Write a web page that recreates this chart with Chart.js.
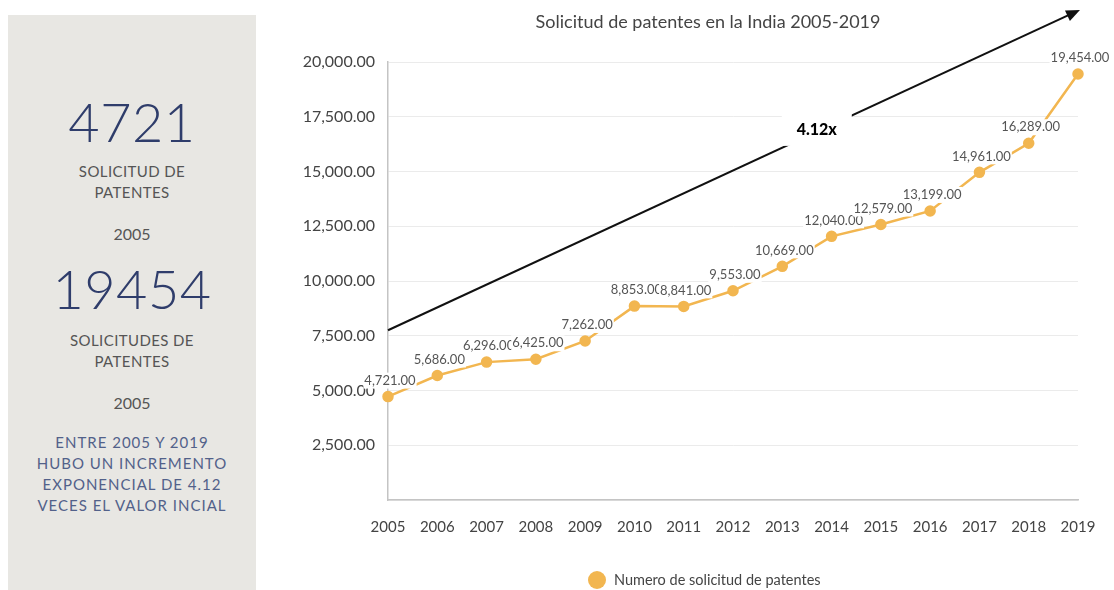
<!DOCTYPE html>
<html>
<head>
<meta charset="utf-8">
<script src="https://cdn.jsdelivr.net/npm/chart.js@4/dist/chart.umd.min.js"></script>
<style>
  html, body { margin: 0; padding: 0; background: #ffffff; width: 1114px; height: 590px; overflow: hidden; font-family: Lato, "Noto Sans", sans-serif; }
  #panel { position: absolute; left: 8px; top: 15px; width: 248px; height: 580px; background: #e8e7e3; }
  .t { position: absolute; left: 0; width: 248px; text-align: center; }
  .big { font-size: 54px; font-weight: 300; color: #2f3d6b; line-height: 1; letter-spacing: 0.5px; }
  .cap { font-size: 15px; color: #555; line-height: 21px; letter-spacing: 0.4px; }
  .yr { font-size: 16px; color: #555; line-height: 20px; }
  .note { font-size: 15px; color: #52618a; line-height: 21px; letter-spacing: 1px; }
  #wrap { position: absolute; left: 280px; top: 0; width: 834px; height: 590px; }
</style>
</head>
<body>
<div id="panel">
  <div class="t big" style="top:80px;">4721</div>
  <div class="t cap" style="top:146px;">SOLICITUD DE<br>PATENTES</div>
  <div class="t yr" style="top:209px;">2005</div>
  <div class="t big" style="top:247px;">19454</div>
  <div class="t cap" style="top:315px;">SOLICITUDES DE<br>PATENTES</div>
  <div class="t yr" style="top:378px;">2005</div>
  <div class="t note" style="top:417px;">ENTRE 2005 Y 2019<br>HUBO UN INCREMENTO<br>EXPONENCIAL DE 4.12<br>VECES EL VALOR INCIAL</div>
</div>
<div id="wrap"><canvas id="c" width="834" height="590"></canvas></div>
<script>
const years = ['2005','2006','2007','2008','2009','2010','2011','2012','2013','2014','2015','2016','2017','2018','2019'];
const applications = [4721, 5686, 6296, 6425, 7262, 8853, 8841, 9553, 10669, 12040, 12579, 13199, 14961, 16289, 19454];
const yTicks = [0, 2500, 5000, 7500, 10000, 12500, 15000, 17500, 20000];
const trendFrom = [0, 7750];      // [category index, value]
const trendTo = [14.04, 22380];
const trendLabel = '4.12x';
const trendLabelAt = [8.7, 16900];
const seriesName = 'Numero de solicitud de patentes';
const chartTitle = 'Solicitud de patentes en la India 2005-2019';

const FONT = 'Lato, "Noto Sans", sans-serif';
const ORANGE = '#f2b650';

const fmt = v => v.toLocaleString('en-US', {minimumFractionDigits: 2, maximumFractionDigits: 2});

const titleLegendPlugin = {
  id: 'titleLegend',
  afterDraw(chart) {
    const ctx = chart.ctx;
    ctx.save();
    ctx.font = '18px ' + FONT;
    ctx.fillStyle = '#444';
    ctx.textAlign = 'center';
    ctx.textBaseline = 'middle';
    ctx.fillText(chartTitle, 428, 22);
    // legend
    const ds = chart.data.datasets[0];
    ctx.fillStyle = ds.backgroundColor;
    ctx.beginPath();
    ctx.arc(317, 580, 9, 0, Math.PI * 2);
    ctx.fill();
    ctx.font = '14.5px ' + FONT;
    ctx.fillStyle = '#444';
    ctx.textAlign = 'left';
    ctx.fillText(ds.label, 334, 580);
    ctx.restore();
  }
};

const labelPlugin = {
  id: 'valueLabels',
  afterDatasetsDraw(chart) {
    const ctx = chart.ctx;
    const meta = chart.getDatasetMeta(0);
    ctx.save();
    ctx.font = '13px ' + FONT;
    ctx.textAlign = 'center';
    ctx.textBaseline = 'middle';
    meta.data.forEach((pt, i) => {
      const txt = fmt(applications[i]);
      const w = ctx.measureText(txt).width;
      const x = pt.x + 2, y = pt.y - 16;
      ctx.fillStyle = '#ffffff';
      ctx.fillRect(x - w / 2 - 1, y - 8, w + 2, 16);
      ctx.fillStyle = '#555555';
      ctx.fillText(txt, x, y);
    });
    ctx.restore();
  }
};

const arrowPlugin = {
  id: 'trendArrow',
  afterDraw(chart) {
    const ctx = chart.ctx;
    const xs = chart.scales.x, ys = chart.scales.y;
    const x1 = xs.getPixelForValue(trendFrom[0]), y1 = ys.getPixelForValue(trendFrom[1]);
    const x2 = xs.getPixelForValue(trendTo[0]), y2 = ys.getPixelForValue(trendTo[1]);
    const ang = Math.atan2(y2 - y1, x2 - x1);
    const head = 15;
    ctx.save();
    ctx.strokeStyle = '#111';
    ctx.lineWidth = 2;
    ctx.beginPath();
    ctx.moveTo(x1, y1);
    ctx.lineTo(x2 - Math.cos(ang) * head * 0.8, y2 - Math.sin(ang) * head * 0.8);
    ctx.stroke();
    ctx.fillStyle = '#111';
    ctx.beginPath();
    ctx.moveTo(x2, y2);
    ctx.lineTo(x2 - head * Math.cos(ang - 0.4), y2 - head * Math.sin(ang - 0.4));
    ctx.lineTo(x2 - head * Math.cos(ang + 0.4), y2 - head * Math.sin(ang + 0.4));
    ctx.closePath();
    ctx.fill();
    const lx = xs.getPixelForValue(trendLabelAt[0]), ly = ys.getPixelForValue(trendLabelAt[1]);
    ctx.fillStyle = '#ffffff';
    ctx.fillRect(lx - 35, ly - 16, 70, 32);
    ctx.font = '900 16px ' + FONT;
    ctx.textAlign = 'center';
    ctx.textBaseline = 'middle';
    ctx.fillStyle = '#000';
    ctx.fillText(trendLabel, lx, ly);
    ctx.restore();
  }
};

new Chart(document.getElementById('c'), {
  type: 'line',
  data: {
    labels: years,
    datasets: [{
      label: seriesName,
      data: applications,
      borderColor: ORANGE,
      backgroundColor: ORANGE,
      borderWidth: 2.5,
      pointRadius: 4.5,
      pointBackgroundColor: ORANGE,
      pointBorderColor: ORANGE,
      tension: 0
    }]
  },
  options: {
    responsive: false,
    devicePixelRatio: 1,
    animation: false,
    layout: { padding: { left: 0, right: 36, top: 62, bottom: 18 } },
    plugins: {
      title: { display: false },
      legend: { display: false },
      tooltip: { enabled: false }
    },
    scales: {
      x: {
        offset: false,
        grid: { display: false, drawTicks: false },
        border: { color: '#c4c4c4', width: 1.5 },
        ticks: { color: '#444', font: { family: FONT, size: 15 }, padding: 18, maxRotation: 0, autoSkip: false },
        afterFit(axis) { axis.height = 72; }
      },
      y: {
        min: 0,
        max: 20000,
        afterBuildTicks(axis) { axis.ticks = yTicks.map(v => ({ value: v })); },
        grid: { color: '#ebebeb', lineWidth: 1, drawTicks: false },
        border: { color: '#c4c4c4', width: 1.5 },
        ticks: {
          color: '#444',
          font: { family: FONT, size: 16 },
          padding: 13,
          callback: v => v === 0 ? '' : fmt(v)
        },
        afterFit(axis) { axis.width = 108; }
      }
    }
  },
  plugins: [labelPlugin, arrowPlugin, titleLegendPlugin]
});
</script>
</body>
</html>
